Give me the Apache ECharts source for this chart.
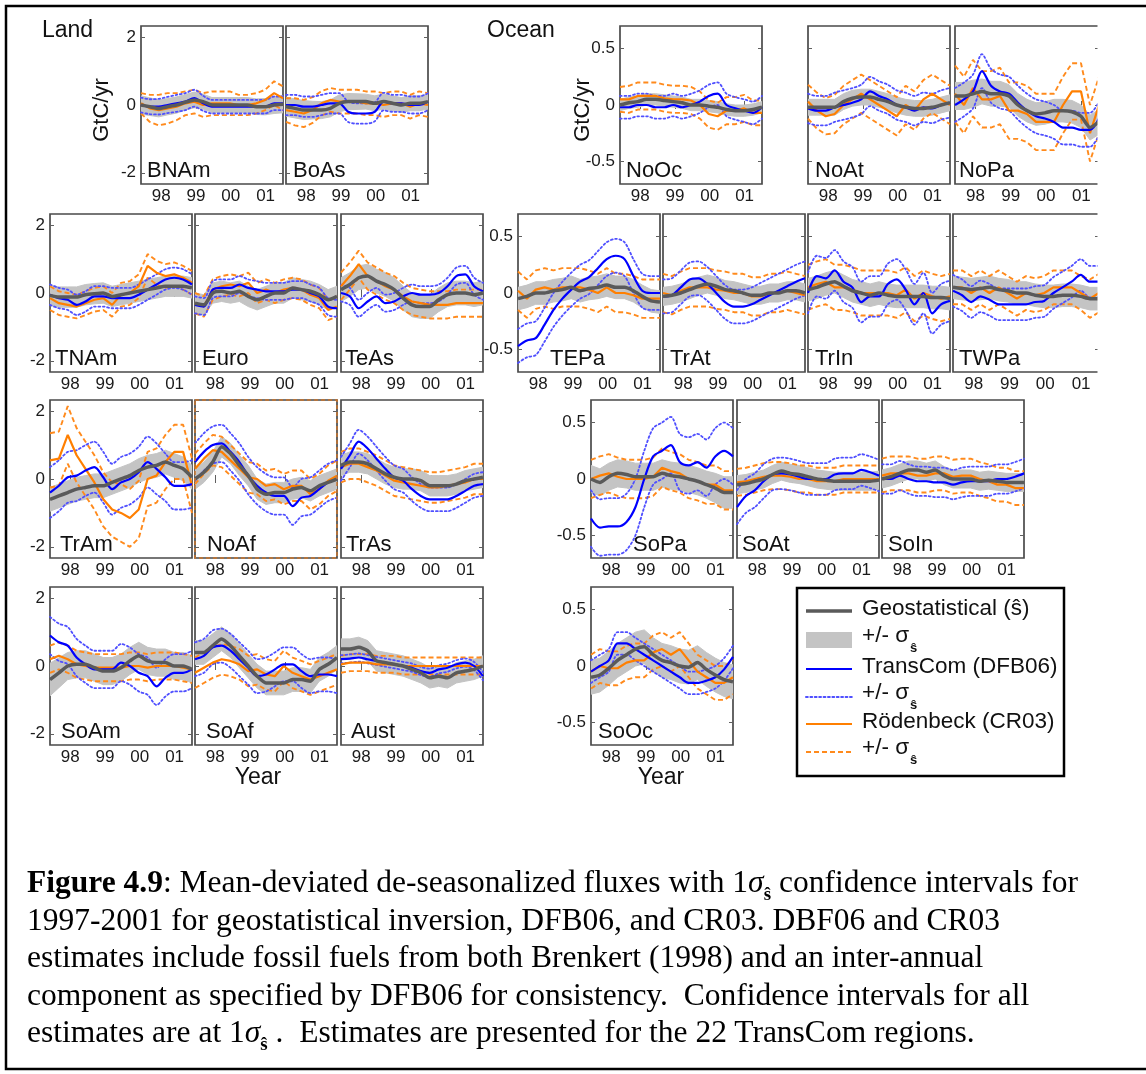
<!DOCTYPE html>
<html><head><meta charset="utf-8">
<script src="https://cdn.jsdelivr.net/npm/echarts@6/dist/echarts.min.js"></script>
<style>
html,body{margin:0;padding:0;background:#fff;}
#chart{position:absolute;left:0;top:0;width:1146px;height:1074px;}
#cap{position:absolute;left:27px;top:863px;font-family:"Liberation Serif","Times New Roman",serif;font-size:31.5px;line-height:37.5px;color:#000;white-space:nowrap;}
#cap sub{font-size:19px;font-weight:bold;vertical-align:-8px;line-height:0;}
</style></head><body>
<div id="chart"></div>
<div id="cap"><b>Figure 4.9</b>: Mean-deviated de-seasonalized fluxes with 1<i>σ</i><sub>ŝ</sub> confidence intervals for<br>1997-2001 for geostatistical inversion, DFB06, and CR03. DBF06 and CR03<br>estimates include fossil fuels from both Brenkert (1998) and an inter-annual<br>component as specified by DFB06 for consistency.&nbsp; Confidence intervals for all<br>estimates are at 1<i>σ</i><sub>ŝ</sub> .&nbsp; Estimates are presented for the 22 TransCom regions.</div>
<script>
// ---------- DATA ----------
const years = [1997.42,1997.675,1997.93,1998.185,1998.44,1998.695,1998.95,1999.205,1999.46,1999.715,1999.97,2000.225,2000.48,2000.735,2000.99,2001.245,2001.5];
const xTicks = [1998,1999,2000,2001];
const landTicks = [-2,0,2];
const oceanTicks = [-0.5,0,0.5];

const BNAm_geo = [0,-0.05,-0.1,-0.05,0,0.08,0.15,0.1,0,0,0,0,0,-0.05,-0.05,0,0.02];
const BNAm_geoS = [0.27,0.26,0.25,0.24,0.24,0.23,0.23,0.22,0.22,0.22,0.22,0.22,0.22,0.23,0.24,0.25,0.25];
const BNAm_tc = [0,-0.05,-0.05,0,0.05,0.1,0.2,0.05,-0.05,-0.05,-0.05,-0.05,-0.05,-0.05,-0.05,0.05,0.05];
const BNAm_tcS = [0.22,0.22,0.23,0.24,0.25,0.25,0.25,0.22,0.2,0.2,0.2,0.2,0.2,0.2,0.2,0.2,0.2];
const BNAm_cr = [0.05,-0.1,-0.15,-0.1,-0.05,0.05,0.1,0,0.05,0.05,0.05,0,0,0.05,0.15,0.35,0.2];
const BNAm_crS = [0.3,0.4,0.45,0.45,0.4,0.35,0.35,0.35,0.35,0.35,0.35,0.3,0.3,0.3,0.3,0.35,0.35];

const BoAs_geo = [-0.05,-0.1,-0.15,-0.15,-0.15,-0.1,0.05,0.1,0.1,0.1,0.05,0.1,0.05,0,0.05,0.05,0.1];
const BoAs_geoS = [0.28,0.28,0.28,0.26,0.25,0.25,0.25,0.24,0.23,0.22,0.22,0.22,0.22,0.22,0.22,0.22,0.22];
const BoAs_tc = [0,0,-0.05,-0.05,0,0.05,0.05,-0.2,-0.25,-0.25,-0.2,0.1,0.05,0.05,0,0,0.1];
const BoAs_tcS = [0.3,0.3,0.3,0.3,0.3,0.3,0.3,0.3,0.3,0.3,0.28,0.26,0.25,0.25,0.25,0.25,0.25];
const BoAs_cr = [-0.15,-0.2,-0.25,-0.15,0.05,0.15,0.1,0.1,0.1,0.05,0.05,0,0.05,0.05,-0.05,0.05,0];
const BoAs_crS = [0.35,0.4,0.4,0.38,0.36,0.35,0.35,0.35,0.35,0.35,0.35,0.35,0.35,0.35,0.35,0.35,0.35];

const NoOc_geo = [0,0.02,0.03,0.05,0.05,0.04,0.03,0.02,0,0,-0.01,-0.02,-0.04,-0.05,-0.05,-0.04,-0.02];
const NoOc_geoS = [0.05,0.05,0.05,0.05,0.05,0.05,0.05,0.05,0.05,0.05,0.05,0.05,0.05,0.05,0.05,0.05,0.05];
const NoOc_tc = [-0.02,-0.02,0,0,-0.02,-0.02,0,-0.02,0,0.03,0.08,0.1,0,-0.03,-0.05,-0.07,-0.02];
const NoOc_tcS = [0.1,0.1,0.1,0.1,0.1,0.1,0.1,0.1,0.1,0.1,0.1,0.1,0.1,0.1,0.1,0.1,0.1];
const NoOc_cr = [0.05,0.05,0.08,0.08,0.08,0.06,0.05,0.05,0.04,0,-0.08,-0.1,-0.05,-0.05,-0.03,-0.07,-0.07];
const NoOc_crS = [0.11,0.12,0.12,0.12,0.12,0.12,0.12,0.12,0.12,0.12,0.12,0.12,0.12,0.12,0.12,0.11,0.11];

const NoAt_geo = [-0.02,-0.02,-0.02,-0.02,0.03,0.06,0.07,0.07,0.05,0.03,0,-0.02,-0.03,-0.03,-0.02,0,0.02];
const NoAt_geoS = [0.07,0.07,0.07,0.07,0.07,0.07,0.07,0.07,0.07,0.07,0.07,0.07,0.07,0.07,0.07,0.07,0.07];
const NoAt_tc = [-0.03,-0.05,-0.05,-0.02,0,0.02,0.05,0.12,0.08,0.05,0,-0.02,-0.05,-0.02,-0.03,0,0.02];
const NoAt_tcS = [0.13,0.13,0.13,0.13,0.13,0.13,0.13,0.13,0.13,0.13,0.13,0.13,0.13,0.13,0.13,0.13,0.13];
const NoAt_cr = [0.03,-0.05,-0.1,-0.08,0,0.05,0.1,0.05,0,-0.05,-0.1,0,-0.05,0.05,0.1,0.05,0];
const NoAt_crS = [0.15,0.16,0.16,0.17,0.17,0.17,0.17,0.17,0.17,0.17,0.17,0.17,0.17,0.17,0.17,0.17,0.17];

const NoPa_geo = [0.08,0.08,0.1,0.12,0.1,0.1,0.08,0,-0.05,-0.08,-0.07,-0.05,-0.05,-0.06,-0.1,-0.2,-0.15];
const NoPa_geoS = [0.12,0.12,0.12,0.11,0.11,0.11,0.1,0.1,0.1,0.1,0.1,0.1,0.1,0.1,0.1,0.11,0.11];
const NoPa_tc = [0,0.05,0.12,0.3,0.17,0.12,0.1,0.02,-0.05,-0.1,-0.12,-0.15,-0.2,-0.2,-0.22,-0.22,-0.12];
const NoPa_tcS = [0.15,0.15,0.15,0.15,0.15,0.15,0.15,0.15,0.15,0.15,0.15,0.15,0.15,0.15,0.15,0.15,0.15];
const NoPa_cr = [0.1,0,0.15,0.05,0.05,0.08,-0.05,-0.05,-0.08,-0.15,-0.15,-0.15,0,0.12,0.12,-0.25,0];
const NoPa_crS = [0.25,0.25,0.25,0.25,0.25,0.25,0.25,0.25,0.25,0.25,0.25,0.25,0.25,0.25,0.25,0.25,0.25];

const TNAm_geo = [-0.07,-0.12,-0.12,-0.12,-0.05,-0.02,0,-0.1,-0.05,0,0.05,0.1,0.15,0.2,0.2,0.2,0.15];
const TNAm_geoS = [0.3,0.3,0.3,0.3,0.3,0.3,0.3,0.3,0.3,0.3,0.3,0.3,0.3,0.3,0.3,0.3,0.3];
const TNAm_tc = [-0.05,-0.15,-0.2,-0.35,-0.25,-0.1,-0.1,-0.15,-0.15,-0.15,-0.05,0.1,0.25,0.4,0.45,0.4,0.25];
const TNAm_tcS = [0.3,0.3,0.3,0.3,0.3,0.3,0.3,0.3,0.3,0.3,0.3,0.3,0.3,0.3,0.3,0.3,0.3];
const TNAm_cr = [-0.15,-0.3,-0.35,-0.4,-0.3,-0.2,-0.15,-0.35,-0.05,0,0.2,0.8,0.6,0.5,0.55,0.45,0.3];
const TNAm_crS = [0.35,0.35,0.35,0.35,0.35,0.35,0.35,0.35,0.35,0.35,0.35,0.35,0.35,0.35,0.35,0.35,0.35];

const Euro_geo = [-0.3,-0.35,0,0.05,0,0.05,-0.1,-0.2,-0.1,0,0,0.15,0.1,0.05,-0.05,-0.2,-0.1];
const Euro_geoS = [0.3,0.3,0.3,0.3,0.3,0.3,0.3,0.3,0.3,0.3,0.3,0.3,0.3,0.3,0.3,0.3,0.3];
const Euro_tc = [-0.35,-0.4,0.1,0.15,0.15,0.25,0.15,0.1,0.05,0.05,0.05,0.1,0.1,0,-0.1,-0.4,-0.45];
const Euro_tcS = [0.25,0.25,0.25,0.25,0.25,0.25,0.25,0.25,0.25,0.25,0.25,0.25,0.25,0.25,0.25,0.25,0.25];
const Euro_cr = [-0.3,-0.4,0.1,0.2,0.25,0.2,0.3,0,0.1,0,0.1,0.15,0.1,-0.05,-0.15,-0.5,-0.4];
const Euro_crS = [0.3,0.3,0.3,0.3,0.3,0.3,0.3,0.3,0.3,0.3,0.3,0.3,0.3,0.3,0.3,0.3,0.3];

const TeAs_geo = [0.1,0.25,0.45,0.5,0.35,0.25,0.1,-0.15,-0.35,-0.4,-0.4,-0.2,-0.05,0,0,-0.05,0];
const TeAs_geoS = [0.35,0.35,0.35,0.35,0.35,0.35,0.35,0.35,0.35,0.35,0.35,0.35,0.35,0.35,0.35,0.35,0.35];
const TeAs_tc = [0,-0.1,-0.45,-0.25,-0.1,-0.3,-0.25,-0.1,0,-0.05,-0.05,0,0.2,0.5,0.55,0.2,0.05];
const TeAs_tcS = [0.25,0.25,0.25,0.25,0.25,0.25,0.25,0.25,0.25,0.25,0.25,0.25,0.25,0.25,0.25,0.25,0.25];
const TeAs_cr = [0.2,0.5,0.85,0.5,0.35,0.2,0.1,-0.1,-0.25,-0.3,-0.35,-0.35,-0.35,-0.3,-0.3,-0.3,-0.3];
const TeAs_crS = [0.4,0.4,0.4,0.4,0.4,0.4,0.4,0.4,0.4,0.4,0.4,0.4,0.4,0.4,0.4,0.4,0.4];

const TEPa_geo = [-0.05,-0.03,0,0,0.02,0.03,0.05,0.02,0.04,0.05,0.07,0.05,0.05,0.02,-0.03,-0.07,-0.08];
const TEPa_geoS = [0.1,0.1,0.1,0.1,0.1,0.1,0.1,0.1,0.1,0.1,0.1,0.1,0.1,0.1,0.1,0.1,0.1];
const TEPa_tc = [-0.47,-0.42,-0.4,-0.28,-0.15,-0.05,0.03,0.1,0.14,0.22,0.3,0.33,0.3,0.15,0.02,0,0];
const TEPa_tcS = [0.15,0.15,0.15,0.15,0.15,0.15,0.15,0.15,0.15,0.15,0.15,0.15,0.15,0.15,0.15,0.15,0.15];
const TEPa_cr = [0.02,-0.05,0.03,0.05,0.03,0.05,0.05,0.05,0.03,0,0.05,0,0,-0.02,-0.05,-0.05,-0.05];
const TEPa_crS = [0.17,0.17,0.17,0.17,0.17,0.17,0.17,0.17,0.17,0.17,0.17,0.17,0.17,0.17,0.17,0.17,0.17];

const TrAt_geo = [-0.03,-0.02,0,0.03,0.06,0.08,0.06,0.03,0.02,0,-0.02,-0.02,0,0,0.02,0.02,0];
const TrAt_geoS = [0.08,0.08,0.08,0.08,0.08,0.08,0.08,0.08,0.08,0.08,0.08,0.08,0.08,0.08,0.08,0.08,0.08];
const TrAt_tc = [-0.03,-0.02,0.05,0.12,0.13,0.08,0,-0.08,-0.12,-0.12,-0.1,-0.06,-0.02,0.02,0.06,0.1,0.13];
const TrAt_tcS = [0.15,0.15,0.15,0.15,0.15,0.15,0.15,0.15,0.15,0.15,0.15,0.15,0.15,0.15,0.15,0.15,0.15];
const TrAt_cr = [0,-0.02,0.02,0.05,0.05,0.05,0.03,0.02,0,0,-0.03,-0.03,0,0,0.02,0,-0.02];
const TrAt_crS = [0.17,0.17,0.17,0.17,0.17,0.17,0.17,0.17,0.17,0.17,0.17,0.17,0.17,0.17,0.17,0.17,0.17];

const TrIn_geo = [0.03,0.05,0.08,0.1,0.06,0.02,0,-0.02,0,-0.02,-0.03,-0.03,-0.03,-0.03,-0.04,-0.04,-0.05];
const TrIn_geoS = [0.1,0.1,0.1,0.1,0.1,0.1,0.1,0.1,0.1,0.1,0.1,0.1,0.1,0.1,0.1,0.1,0.1];
const TrIn_tc = [0,0.15,0.13,0.2,0.1,0.05,-0.08,-0.03,-0.03,0.08,0.12,0.03,-0.1,0,-0.18,-0.1,-0.07];
const TrIn_tcS = [0.18,0.18,0.18,0.18,0.18,0.18,0.18,0.18,0.18,0.18,0.18,0.18,0.18,0.18,0.18,0.18,0.18];
const TrIn_cr = [0.05,0.08,0.1,0.05,0.05,0.03,0,0,0,0,-0.02,0.03,-0.05,0,-0.03,-0.05,-0.03];
const TrIn_crS = [0.2,0.2,0.2,0.2,0.2,0.2,0.2,0.2,0.2,0.2,0.2,0.2,0.2,0.2,0.2,0.2,0.2];

const TWPa_geo = [0.05,0.04,0.03,0.04,0.05,0.03,0.02,0,0,-0.02,-0.03,-0.03,-0.02,-0.02,-0.03,-0.05,-0.05];
const TWPa_geoS = [0.1,0.1,0.1,0.1,0.1,0.1,0.1,0.1,0.1,0.1,0.1,0.1,0.1,0.1,0.1,0.1,0.1];
const TWPa_tc = [0.02,-0.02,-0.08,-0.03,-0.06,-0.1,-0.1,-0.1,-0.1,-0.08,-0.07,0,0.05,0.1,0.16,0.1,0.1];
const TWPa_tcS = [0.14,0.14,0.14,0.14,0.14,0.14,0.14,0.14,0.14,0.14,0.14,0.14,0.14,0.14,0.14,0.14,0.14];
const TWPa_cr = [0.05,0.05,0,0.05,0,0.05,0,-0.05,0,-0.02,0,0.05,0.05,0.05,0,-0.05,0];
const TWPa_crS = [0.15,0.15,0.15,0.15,0.15,0.15,0.15,0.15,0.15,0.15,0.15,0.15,0.15,0.15,0.15,0.17,0.17];

const TrAm_geo = [-0.6,-0.5,-0.4,-0.3,-0.25,-0.2,-0.2,-0.1,0,0.1,0.25,0.35,0.4,0.5,0.4,0.3,0.05];
const TrAm_geoS = [0.35,0.35,0.35,0.35,0.35,0.35,0.35,0.35,0.35,0.35,0.35,0.35,0.35,0.35,0.35,0.35,0.35];
const TrAm_tc = [-0.4,-0.2,0.05,0.1,0.25,0.35,0.05,-0.3,-0.1,0,0.2,0.5,0.3,0.05,-0.2,-0.2,-0.15];
const TrAm_tcS = [0.75,0.75,0.75,0.75,0.75,0.75,0.75,0.75,0.75,0.75,0.75,0.75,0.75,0.7,0.7,0.7,0.7];
const TrAm_cr = [0.55,0.6,1.3,0.7,0.3,-0.1,-0.6,-0.9,-1.0,-1.15,-0.9,0,0.1,0.5,0.8,0.8,-0.2];
const TrAm_crS = [0.8,0.8,0.85,0.8,0.8,0.8,0.8,0.8,0.85,0.85,0.85,0.8,0.8,0.8,0.8,0.8,0.8];

const NoAf_geo = [0,0.2,0.5,0.95,0.75,0.4,0.1,-0.3,-0.45,-0.4,-0.4,-0.3,-0.25,-0.35,-0.2,-0.1,0];
const NoAf_geoS = [0.3,0.3,0.3,0.3,0.3,0.3,0.3,0.3,0.3,0.3,0.3,0.3,0.3,0.3,0.3,0.3,0.3];
const NoAf_tc = [0.5,0.8,1.0,1.05,0.8,0.5,0.1,-0.2,-0.4,-0.5,-0.5,-0.8,-0.55,-0.5,-0.3,-0.1,0];
const NoAf_tcS = [0.55,0.55,0.55,0.55,0.55,0.55,0.55,0.55,0.55,0.55,0.55,0.55,0.55,0.55,0.55,0.55,0.55];
const NoAf_cr = [0.3,0.6,0.85,0.8,0.55,0.3,0.05,0,-0.2,-0.15,-0.3,-0.2,-0.2,-0.45,-0.3,-0.05,0.1];
const NoAf_crS = [0.45,0.45,0.45,0.45,0.45,0.45,0.45,0.45,0.45,0.45,0.45,0.45,0.45,0.45,0.45,0.45,0.45];

const TrAs_geo = [0.4,0.5,0.5,0.45,0.3,0.15,0.05,0,0,-0.05,-0.2,-0.2,-0.2,-0.15,-0.05,0,0.05];
const TrAs_geoS = [0.3,0.3,0.3,0.3,0.3,0.3,0.3,0.3,0.3,0.3,0.3,0.3,0.3,0.3,0.3,0.3,0.3];
const TrAs_tc = [0.3,0.7,1.1,0.9,0.6,0.3,0.05,-0.05,-0.3,-0.5,-0.6,-0.6,-0.6,-0.5,-0.35,-0.2,-0.15];
const TrAs_tcS = [0.35,0.35,0.35,0.35,0.35,0.35,0.35,0.35,0.35,0.35,0.35,0.35,0.35,0.35,0.35,0.35,0.35];
const TrAs_cr = [0.35,0.45,0.45,0.35,0.25,0.1,-0.05,-0.1,-0.15,-0.2,-0.25,-0.25,-0.2,-0.15,-0.1,0,0];
const TrAs_crS = [0.45,0.45,0.45,0.45,0.45,0.45,0.45,0.45,0.45,0.45,0.45,0.45,0.45,0.45,0.45,0.45,0.45];

const SoPa_geo = [0,-0.03,0.02,0.05,0.04,0.02,0.02,0.02,0.05,0.03,0.02,0,-0.02,-0.05,-0.08,-0.12,-0.12];
const SoPa_geoS = [0.12,0.12,0.12,0.12,0.12,0.12,0.12,0.12,0.12,0.12,0.12,0.12,0.12,0.12,0.13,0.14,0.14];
const SoPa_tc = [-0.35,-0.43,-0.42,-0.42,-0.38,-0.25,0,0.2,0.25,0.3,0.15,0.12,0.15,0.1,0.2,0.25,0.2];
const SoPa_tcS = [0.25,0.25,0.25,0.25,0.25,0.25,0.25,0.25,0.25,0.25,0.25,0.25,0.25,0.25,0.25,0.25,0.25];
const SoPa_cr = [0,0.03,0.05,0.02,0,0,0,0.02,0.1,0.07,0.05,0,-0.02,-0.05,-0.05,-0.1,-0.1];
const SoPa_crS = [0.17,0.17,0.17,0.17,0.17,0.17,0.17,0.17,0.17,0.17,0.17,0.17,0.17,0.17,0.17,0.17,0.17];

const SoAt_geo = [-0.05,-0.04,-0.02,0,0.04,0.07,0.05,0.04,0.02,0,-0.01,-0.02,-0.02,-0.02,-0.02,-0.02,-0.01];
const SoAt_geoS = [0.08,0.08,0.08,0.08,0.08,0.08,0.08,0.08,0.08,0.08,0.08,0.08,0.08,0.08,0.08,0.08,0.08];
const SoAt_tc = [-0.25,-0.15,-0.1,-0.02,0.04,0.05,0.04,0.02,0,0,0,0.04,0.05,0.05,0.08,0.06,0.03];
const SoAt_tcS = [0.15,0.15,0.15,0.15,0.14,0.14,0.14,0.14,0.14,0.14,0.14,0.14,0.14,0.14,0.14,0.14,0.14];
const SoAt_cr = [-0.03,-0.02,0,0.02,0.03,0.03,0.02,0,0,-0.02,-0.02,-0.02,0,0,0,0,0];
const SoAt_crS = [0.12,0.12,0.12,0.12,0.12,0.12,0.12,0.12,0.12,0.12,0.12,0.12,0.12,0.12,0.12,0.12,0.12];

const SoIn_geo = [0,0.02,0.05,0.08,0.08,0.06,0.08,0.03,0,0,0,-0.02,-0.01,-0.02,-0.03,-0.03,-0.03];
const SoIn_geoS = [0.08,0.08,0.08,0.08,0.08,0.08,0.08,0.08,0.08,0.08,0.08,0.08,0.08,0.08,0.08,0.08,0.08];
const SoIn_tc = [0,0,0.03,0,-0.02,-0.02,-0.03,-0.03,-0.05,-0.03,-0.02,-0.02,-0.02,0,0,0.02,0.05];
const SoIn_tcS = [0.13,0.13,0.13,0.13,0.13,0.13,0.13,0.13,0.13,0.13,0.13,0.13,0.13,0.13,0.13,0.13,0.13];
const SoIn_cr = [0.03,0.05,0.05,0.05,0.03,0.03,0.05,0.05,0.02,0.03,0.03,0,-0.02,-0.05,-0.05,-0.08,-0.08];
const SoIn_crS = [0.15,0.15,0.15,0.15,0.15,0.15,0.15,0.15,0.15,0.15,0.15,0.15,0.15,0.15,0.15,0.15,0.15];

const SoAm_geo = [-0.4,-0.2,0,0.05,0.05,-0.05,-0.15,-0.15,-0.05,0.15,0.3,0.15,0.1,0.1,0,0,-0.1];
const SoAm_geoS = [0.48,0.44,0.4,0.4,0.4,0.4,0.4,0.4,0.4,0.4,0.4,0.4,0.4,0.4,0.4,0.4,0.4];
const SoAm_tc = [0.9,0.7,0.6,0.25,0.05,-0.1,-0.1,-0.1,0.1,0,-0.2,-0.3,-0.6,-0.35,-0.2,-0.2,-0.1];
const SoAm_tcS = [0.55,0.55,0.55,0.55,0.55,0.55,0.55,0.55,0.55,0.55,0.55,0.55,0.55,0.55,0.55,0.55,0.55];
const SoAm_cr = [0.2,0.3,0.2,0.05,0,-0.05,-0.05,-0.05,-0.05,0,0,-0.05,0,0,0,-0.05,-0.1];
const SoAm_crS = [0.4,0.4,0.4,0.4,0.4,0.4,0.4,0.4,0.4,0.4,0.4,0.4,0.4,0.4,0.4,0.4,0.4];

const SoAf_geo = [0.4,0.4,0.6,0.8,0.6,0.3,0,-0.3,-0.5,-0.5,-0.5,-0.4,-0.4,-0.45,-0.1,0.05,0.25];
const SoAf_geoS = [0.35,0.35,0.35,0.35,0.35,0.35,0.35,0.35,0.35,0.35,0.35,0.35,0.35,0.35,0.35,0.35,0.35];
const SoAf_tc = [0.2,0.3,0.55,0.6,0.45,0.2,-0.05,-0.3,-0.25,-0.1,0.05,0.05,-0.15,-0.3,-0.25,-0.25,-0.3];
const SoAf_tcS = [0.5,0.5,0.5,0.5,0.5,0.5,0.5,0.5,0.5,0.5,0.5,0.5,0.5,0.5,0.5,0.5,0.5];
const SoAf_cr = [-0.2,-0.05,0.1,0.2,0.15,0.05,-0.15,-0.1,-0.25,-0.3,0,-0.2,-0.3,-0.4,-0.3,-0.2,-0.1];
const SoAf_crS = [0.45,0.45,0.45,0.45,0.45,0.45,0.45,0.45,0.45,0.45,0.45,0.45,0.45,0.45,0.45,0.45,0.45];

const Aust_geo = [0.5,0.5,0.55,0.45,0.15,0.1,0.05,0,-0.1,-0.2,-0.35,-0.3,-0.35,-0.2,-0.15,-0.1,0];
const Aust_geoS = [0.3,0.3,0.3,0.3,0.3,0.3,0.3,0.3,0.3,0.3,0.3,0.3,0.3,0.3,0.3,0.3,0.3];
const Aust_tc = [0.2,0.22,0.25,0.2,0.15,0.1,0.05,0,-0.05,-0.15,-0.2,-0.1,-0.05,0.05,0.1,0,-0.3];
const Aust_tcS = [0.12,0.12,0.12,0.12,0.12,0.12,0.12,0.12,0.12,0.12,0.12,0.12,0.12,0.12,0.12,0.12,0.12];
const Aust_cr = [0.05,0.1,0.1,0.1,0.05,0.05,0.05,0,0,0,0,0,0,0,0,0,0];
const Aust_crS = [0.25,0.25,0.25,0.25,0.25,0.25,0.25,0.25,0.25,0.25,0.25,0.25,0.25,0.25,0.25,0.25,0.25];

const SoOc_geo = [-0.1,-0.08,-0.02,0.05,0.1,0.15,0.17,0.1,0.05,0.03,0,-0.01,0.03,-0.03,-0.08,-0.12,-0.14];
const SoOc_geoS = [0.15,0.15,0.15,0.15,0.15,0.15,0.15,0.15,0.15,0.15,0.15,0.15,0.15,0.15,0.15,0.15,0.15];
const SoOc_tc = [-0.05,0,0.05,0.2,0.2,0.15,0.1,0.05,0,-0.05,-0.1,-0.15,-0.15,-0.13,-0.1,-0.03,0.08];
const SoOc_tcS = [0.1,0.1,0.1,0.1,0.1,0.1,0.1,0.1,0.1,0.1,0.1,0.1,0.1,0.1,0.1,0.1,0.1];
const SoOc_cr = [-0.05,0,-0.02,-0.02,0.03,0.05,0.05,0.12,0.15,0.1,0.15,0.05,-0.05,-0.1,-0.15,-0.15,-0.1];
const SoOc_crS = [0.15,0.15,0.15,0.15,0.15,0.15,0.15,0.15,0.15,0.15,0.15,0.15,0.15,0.15,0.15,0.15,0.15];

// table built from the arrays above
const DATA = {
  BNAm:[BNAm_geo,BNAm_geoS,BNAm_tc,BNAm_tcS,BNAm_cr,BNAm_crS],
  BoAs:[BoAs_geo,BoAs_geoS,BoAs_tc,BoAs_tcS,BoAs_cr,BoAs_crS],
  NoOc:[NoOc_geo,NoOc_geoS,NoOc_tc,NoOc_tcS,NoOc_cr,NoOc_crS],
  NoAt:[NoAt_geo,NoAt_geoS,NoAt_tc,NoAt_tcS,NoAt_cr,NoAt_crS],
  NoPa:[NoPa_geo,NoPa_geoS,NoPa_tc,NoPa_tcS,NoPa_cr,NoPa_crS],
  TNAm:[TNAm_geo,TNAm_geoS,TNAm_tc,TNAm_tcS,TNAm_cr,TNAm_crS],
  Euro:[Euro_geo,Euro_geoS,Euro_tc,Euro_tcS,Euro_cr,Euro_crS],
  TeAs:[TeAs_geo,TeAs_geoS,TeAs_tc,TeAs_tcS,TeAs_cr,TeAs_crS],
  TEPa:[TEPa_geo,TEPa_geoS,TEPa_tc,TEPa_tcS,TEPa_cr,TEPa_crS],
  TrAt:[TrAt_geo,TrAt_geoS,TrAt_tc,TrAt_tcS,TrAt_cr,TrAt_crS],
  TrIn:[TrIn_geo,TrIn_geoS,TrIn_tc,TrIn_tcS,TrIn_cr,TrIn_crS],
  TWPa:[TWPa_geo,TWPa_geoS,TWPa_tc,TWPa_tcS,TWPa_cr,TWPa_crS],
  TrAm:[TrAm_geo,TrAm_geoS,TrAm_tc,TrAm_tcS,TrAm_cr,TrAm_crS],
  NoAf:[NoAf_geo,NoAf_geoS,NoAf_tc,NoAf_tcS,NoAf_cr,NoAf_crS],
  TrAs:[TrAs_geo,TrAs_geoS,TrAs_tc,TrAs_tcS,TrAs_cr,TrAs_crS],
  SoPa:[SoPa_geo,SoPa_geoS,SoPa_tc,SoPa_tcS,SoPa_cr,SoPa_crS],
  SoAt:[SoAt_geo,SoAt_geoS,SoAt_tc,SoAt_tcS,SoAt_cr,SoAt_crS],
  SoIn:[SoIn_geo,SoIn_geoS,SoIn_tc,SoIn_tcS,SoIn_cr,SoIn_crS],
  SoAm:[SoAm_geo,SoAm_geoS,SoAm_tc,SoAm_tcS,SoAm_cr,SoAm_crS],
  SoAf:[SoAf_geo,SoAf_geoS,SoAf_tc,SoAf_tcS,SoAf_cr,SoAf_crS],
  Aust:[Aust_geo,Aust_geoS,Aust_tc,Aust_tcS,Aust_cr,Aust_crS],
  SoOc:[SoOc_geo,SoOc_geoS,SoOc_tc,SoOc_tcS,SoOc_cr,SoOc_crS]
};

// ---------- LAYOUT ----------
const layout = [
  {n:'BNAm',l:141,t:26,land:true,ylab:true,dx:6},
  {n:'BoAs',l:286,t:26,land:true,ylab:false,dx:7},
  {n:'NoOc',l:620,t:26,land:false,ylab:true,dx:6},
  {n:'NoAt',l:808,t:26,land:false,ylab:false,dx:7},
  {n:'NoPa',l:955,t:26,land:false,ylab:false,dx:4,w:144},
  {n:'TNAm',l:50,t:214,land:true,ylab:true,dx:5},
  {n:'Euro',l:195,t:214,land:true,ylab:false,dx:7},
  {n:'TeAs',l:341,t:214,land:true,ylab:false,dx:4},
  {n:'TEPa',l:518,t:214,land:false,ylab:true,dx:32},
  {n:'TrAt',l:663,t:214,land:false,ylab:false,dx:7},
  {n:'TrIn',l:808,t:214,land:false,ylab:false,dx:7},
  {n:'TWPa',l:953,t:214,land:false,ylab:false,dx:6,w:146},
  {n:'TrAm',l:50,t:400,land:true,ylab:true,dx:10},
  {n:'NoAf',l:195,t:400,land:true,ylab:false,dx:12},
  {n:'TrAs',l:341,t:400,land:true,ylab:false,dx:5},
  {n:'SoPa',l:591,t:400,land:false,ylab:true,dx:42},
  {n:'SoAt',l:737,t:400,land:false,ylab:false,dx:5},
  {n:'SoIn',l:882,t:400,land:false,ylab:false,dx:6},
  {n:'SoAm',l:50,t:587,land:true,ylab:true,dx:11},
  {n:'SoAf',l:195,t:587,land:true,ylab:false,dx:11},
  {n:'Aust',l:341,t:587,land:true,ylab:false,dx:10},
  {n:'SoOc',l:591,t:587,land:false,ylab:true,dx:7}
];

const FF = '"Liberation Sans", Arial, Helvetica, sans-serif';
const W = 142, H = 158;
const XMIN = 1997.42, XMAX = 2001.5;
const C_BAND = '#c4c4c4', C_GEO = '#5a5a5a', C_TC = '#0000ff', C_TCD = '#4f4fff', C_CR = '#ff7f00', C_CRD = '#ff8a1c';

const grids = [], xAxes = [], yAxes = [], series = [], graphics = [];

layout.forEach((p, i) => {
  const [geo, geoS, tc, tcS, cr, crS] = DATA[p.n];
  const ym = p.land ? 2.33 : 0.7;
  const yt = p.land ? landTicks : oceanTicks;
  grids.push({left:p.l, top:p.t, width:p.w || W, height:H, show:true, borderColor:'#4a4a4a', borderWidth:1.7, backgroundColor:'rgba(0,0,0,0)'});
  const tick = (vals) => ({show:true, inside:true, length:4, customValues:vals, lineStyle:{color:'#606060', width:1}});
  xAxes.push({gridIndex:i, type:'value', position:'bottom', min:XMIN, max:XMAX,
    axisLine:{show:false}, splitLine:{show:false}, axisTick:tick(xTicks),
    axisLabel:{show:true, customValues:xTicks, formatter:v => String(Math.round(v)).slice(2), fontSize:17, color:'#1a1a1a', margin:4, fontFamily:FF}});
  xAxes.push({gridIndex:i, type:'value', position:'top', min:XMIN, max:XMAX,
    axisLine:{show:false}, splitLine:{show:false}, axisTick:tick(xTicks), axisLabel:{show:false}});
  yAxes.push({gridIndex:i, type:'value', position:'left', min:-ym, max:ym,
    axisLine:{show:false}, splitLine:{show:false}, axisTick:tick(yt),
    axisLabel:{show:p.ylab, customValues:yt, formatter:v => String(v), fontSize:17, color:'#1a1a1a', margin:5, fontFamily:FF}});
  yAxes.push({gridIndex:i, type:'value', position:'right', min:-ym, max:ym,
    axisLine:{show:false}, splitLine:{show:false}, axisTick:tick(yt), axisLabel:{show:false}});

  const xi = 2 * i, yi = 2 * i;
  const base = {type:'line', xAxisIndex:xi, yAxisIndex:yi, symbol:'none', silent:true, animation:false, clip:true};
  const line = (arr, style, smooth) => Object.assign({}, base, {data:years.map((x,k)=>[x, arr[k]]), lineStyle:style, smooth:smooth});
  // shaded +/- sigma band of the geostatistical estimate (polygon through the axes' scales)
  series.push({type:'custom', coordinateSystem:'cartesian2d', xAxisIndex:xi, yAxisIndex:yi, silent:true, animation:false, clip:true,
    data:years.map((x,k)=>[x, geo[k]-geoS[k], geo[k]+geoS[k]]),
    encode:{x:0, y:[1,2]},
    renderItem:(params, api) => {
      if (params.dataIndex !== 0) return null;
      const up = years.map((x,k)=>api.coord([x, geo[k]+geoS[k]]));
      const lo = years.map((x,k)=>api.coord([x, geo[k]-geoS[k]])).reverse();
      return {type:'polygon', shape:{points:up.concat(lo)}, style:{fill:C_BAND, stroke:C_BAND, lineWidth:1}};
    }});
  // CR03 +/- sigma
  const crd = {color:C_CRD, width:1.9, type:[5,3]};
  series.push(line(cr.map((v,k)=>v-crS[k]), crd, false));
  series.push(line(cr.map((v,k)=>v+crS[k]), crd, false));
  // DFB06 +/- sigma
  const tcd = {color:C_TCD, width:1.8, type:[1.8,2.6], cap:'round'};
  series.push(line(tc.map((v,k)=>v-tcS[k]), tcd, 0.3));
  series.push(line(tc.map((v,k)=>v+tcS[k]), tcd, 0.3));
  series.push(line(cr, {color:C_CR, width:2.2}, false));
  series.push(line(tc, {color:C_TC, width:2.2}, 0.3));
  series.push(line(geo, {color:C_GEO, width:3.5}, 0.2));

  graphics.push({type:'text', x:p.l + p.dx, y:p.t + H - 13, z:50,
    style:{text:p.n, fontSize:22, fontFamily:FF, fill:'#111', align:'left', verticalAlign:'middle'}});
});

// clip the panels cut off at the right edge
graphics.push({type:'rect', z:90, shape:{x:1097.5, y:15, width:60, height:380}, style:{fill:'#fff'}});
// outer frame
graphics.push({type:'rect', z:95, shape:{x:6, y:6, width:1170, height:1063}, style:{fill:'none', stroke:'#000', lineWidth:2.5}});
// dashed highlight around NoAf
graphics.push({type:'rect', z:60, shape:{x:195, y:400, width:W, height:H}, style:{fill:'none', stroke:'#c8742c', lineWidth:1.5, lineDash:[4,3]}});

const txt = (t, x, y, size, opts) => Object.assign({type:'text', x:x, y:y, z:50,
  style:Object.assign({text:t, fontSize:size, fontFamily:FF, fill:'#111', align:'left', verticalAlign:'middle'}, opts || {})});
graphics.push(txt('Land', 42, 31, 23));
graphics.push(txt('Ocean', 487, 31, 23));
graphics.push(Object.assign(txt('GtC/yr', 102, 110, 22, {align:'center'}), {rotation:Math.PI/2}));
graphics.push(Object.assign(txt('GtC/yr', 583, 110, 22, {align:'center'}), {rotation:Math.PI/2}));
graphics.push(txt('Year', 258, 778, 23, {align:'center'}));
graphics.push(txt('Year', 661, 778, 23, {align:'center'}));

// legend
const LF = 22.5;
const ctx = document.createElement('canvas').getContext('2d');
ctx.font = LF + 'px "Liberation Sans"';
const sigW = ctx.measureText('+/- σ').width;
graphics.push({type:'rect', z:40, shape:{x:797, y:588, width:267, height:188}, style:{fill:'#fff', stroke:'#000', lineWidth:2.5}});
const LX1 = 806, LX2 = 852, TX = 862;
const legendRows = [
  {y:611, kind:'geo', label:'Geostatistical (ŝ)'},
  {y:640, kind:'band', label:null},
  {y:669, kind:'tc', label:'TransCom (DFB06)'},
  {y:697, kind:'tcd', label:null},
  {y:724, kind:'cr', label:'Rödenbeck (CR03)'},
  {y:752, kind:'crd', label:null}
];
legendRows.forEach(r => {
  if (r.kind === 'band') {
    graphics.push({type:'rect', z:45, shape:{x:LX1, y:r.y-8, width:LX2-LX1, height:16}, style:{fill:C_BAND}});
  } else {
    const st = {geo:{stroke:C_GEO, lineWidth:3.5}, tc:{stroke:C_TC, lineWidth:2.2}, tcd:{stroke:C_TCD, lineWidth:2, lineDash:[1.8,2.6], lineCap:'round'},
                cr:{stroke:C_CR, lineWidth:2.2}, crd:{stroke:C_CRD, lineWidth:2, lineDash:[5,3]}}[r.kind];
    graphics.push({type:'line', z:45, shape:{x1:LX1, y1:r.y, x2:LX2, y2:r.y}, style:st});
  }
  if (r.label) {
    graphics.push(txt(r.label, TX, r.y - 2, LF));
  } else {
    graphics.push(txt('+/- σ', TX, r.y - 4, LF));
    graphics.push(txt('ŝ', TX + sigW + 1, r.y + 8, 13, {fontWeight:'bold'}));
  }
});

const chart = echarts.init(document.getElementById('chart'), null, {renderer:'canvas'});
chart.setOption({
  animation:false,
  backgroundColor:'#fff',
  textStyle:{fontFamily:FF},
  grid:grids, xAxis:xAxes, yAxis:yAxes, series:series, graphic:graphics
});
</script>
</body></html>
